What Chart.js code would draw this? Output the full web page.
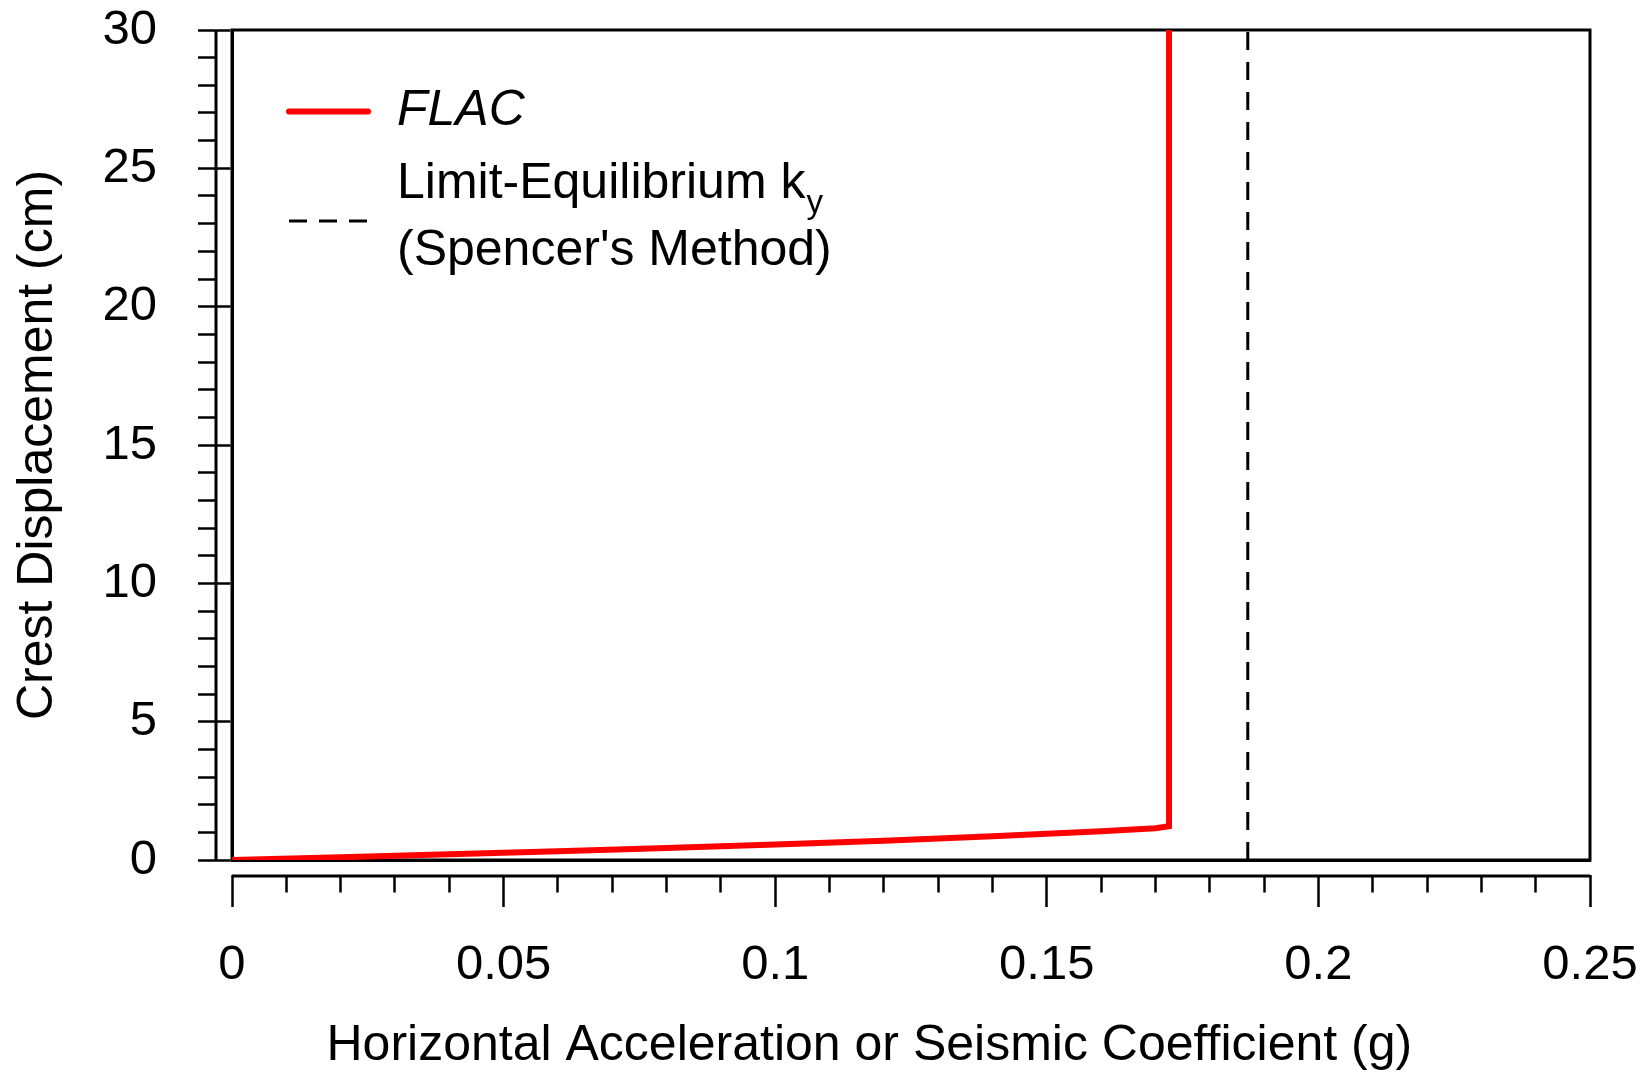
<!DOCTYPE html>
<html>
<head>
<meta charset="utf-8">
<script src="https://cdn.jsdelivr.net/npm/chart.js@4.4.1/dist/chart.umd.min.js"></script>
<style>
  html, body { margin: 0; padding: 0; background: #fff; }
  #wrap { width: 1650px; height: 1079px; }
</style>
</head>
<body>
<div id="wrap"><canvas id="chart" width="1650" height="1079"></canvas></div>
<script>
// FLAC crest displacement vs horizontal acceleration
const accel = [0, 0.02, 0.04, 0.06, 0.08, 0.10, 0.12, 0.14, 0.16, 0.17, 0.1725, 0.1725];
const crestDisp = [0, 0.10, 0.21, 0.32, 0.43, 0.56, 0.70, 0.86, 1.04, 1.15, 1.22, 30];

// limit-equilibrium yield coefficient (Spencer's method)
const kyAccel = [0.187, 0.187];
const kyDisp = [0, 30];

const xRange = [0, 0.25];
const yRange = [0, 30];
const xSteps = { minor: 0.01, major: 0.05 };
const ySteps = { minor: 1, major: 5 };

const xTitle = 'Horizontal Acceleration or Seismic Coefficient (g)      ';
const yTitle = 'Crest Displacement (cm)';

const FONT = "'Liberation Sans', Arial, sans-serif";
const AXIS_GAP = 16;   // offset between plot frame and the axis lines
const TICK_LEN = 47;

function isMajor(v, step) {
  return Math.abs(v / step - Math.round(v / step)) < 1e-6;
}

function fmt(v) {
  return String(+v.toFixed(2));
}

// tick marks start at the offset axis line, not at the frame
function tickDash(v, step) {
  var len = isMajor(v, step) ? 32.5 : 17.5;
  return [0, 13, len, 300];
}

const framePlugin = {
  id: 'frameAndOffsetAxes',
  beforeDatasetsDraw(chart) {
    const { ctx, chartArea: a } = chart;
    ctx.save();
    ctx.strokeStyle = '#000';
    ctx.lineWidth = 3;
    ctx.strokeRect(a.left, a.top, a.right - a.left, a.bottom - a.top);
    ctx.beginPath();
    ctx.moveTo(a.left, a.bottom + AXIS_GAP);
    ctx.lineTo(a.right, a.bottom + AXIS_GAP);
    ctx.moveTo(a.left - AXIS_GAP, a.top);
    ctx.lineTo(a.left - AXIS_GAP, a.bottom);
    ctx.stroke();
    ctx.restore();
  }
};

// legend drawn inside the plot, second entry has a subscript and two lines
const legendPlugin = {
  id: 'insideLegend',
  afterDatasetsDraw(chart) {
    const { ctx, chartArea: a } = chart;
    const sets = chart.data.datasets;
    const x0 = a.left + 57, x1 = a.left + 136, tx = a.left + 165;

    ctx.save();
    ctx.textBaseline = 'middle';
    ctx.textAlign = 'left';
    ctx.fillStyle = '#000';

    // FLAC
    var y = a.top + 81.5;
    ctx.strokeStyle = sets[0].borderColor;
    ctx.lineWidth = sets[0].borderWidth;
    ctx.lineCap = 'round';
    ctx.beginPath();
    ctx.moveTo(x0, y);
    ctx.lineTo(x1, y);
    ctx.stroke();
    ctx.font = 'italic 50px ' + FONT;
    ctx.fillText(sets[0].label, tx, y);

    // Limit-Equilibrium ky
    y = a.top + 191;
    ctx.strokeStyle = sets[1].borderColor;
    ctx.lineWidth = sets[1].borderWidth;
    ctx.lineCap = 'butt';
    ctx.setLineDash(sets[1].borderDash);
    ctx.beginPath();
    ctx.moveTo(x0, y);
    ctx.lineTo(x1 + 2, y);
    ctx.stroke();
    ctx.setLineDash([]);

    const lines = sets[1].label.split('|');
    ctx.font = '50px ' + FONT;
    const l1y = a.top + 154;
    ctx.fillText(lines[0], tx, l1y);
    const w = ctx.measureText(lines[0]).width;
    ctx.font = '33px ' + FONT;
    ctx.textBaseline = 'alphabetic';
    ctx.fillText(lines[1], tx + w + 1, l1y + 17 + 12);
    ctx.textBaseline = 'middle';
    ctx.font = '50px ' + FONT;
    ctx.fillText(lines[2], tx, a.top + 221.5);
    ctx.restore();
  }
};

const tickFont = { family: FONT, size: 49, lineHeight: 1.2 };
const titleFont = { family: FONT, size: 50, lineHeight: 1.2 };

new Chart(document.getElementById('chart'), {
  type: 'scatter',
  data: {
    datasets: [{
      label: 'FLAC',
      data: accel.map((x, i) => ({ x: x, y: crestDisp[i] })),
      showLine: true,
      borderColor: '#ff0000',
      borderWidth: 6,
      borderCapStyle: 'round',
      pointRadius: 0,
      tension: 0
    }, {
      label: "Limit-Equilibrium k|y|(Spencer's Method)",
      data: kyAccel.map((x, i) => ({ x: x, y: kyDisp[i] })),
      showLine: true,
      borderColor: '#000',
      borderWidth: 3,
      borderDash: [18, 12],
      pointRadius: 0
    }]
  },
  options: {
    responsive: false,
    animation: false,
    devicePixelRatio: 1,
    layout: { padding: { left: 0, right: 60, top: 30, bottom: 0 } },
    plugins: {
      legend: { display: false },
      tooltip: { enabled: false }
    },
    scales: {
      x: {
        type: 'linear',
        position: 'bottom',
        min: xRange[0],
        max: xRange[1],
        afterFit(scale) {
          // fixed axis band; label overhang is covered by the layout padding
          scale.height = 219;
          scale.paddingLeft = 0;
          scale.paddingRight = 0;
        },
        border: { display: true, color: '#000', width: 3 },
        grid: {
          drawOnChartArea: false,
          drawTicks: true,
          tickLength: TICK_LEN,
          tickWidth: 2.5,
          tickColor: '#000',
          tickBorderDash: (c) => tickDash(c.tick.value, xSteps.major)
        },
        ticks: {
          stepSize: xSteps.minor,
          autoSkip: false,
          maxRotation: 0,
          minRotation: 0,
          padding: 29,
          color: '#000',
          font: tickFont,
          callback: (v) => isMajor(v, xSteps.major) ? fmt(v) : ''
        },
        title: {
          display: true,
          text: xTitle,
          color: '#000',
          font: titleFont,
          padding: { top: 0, bottom: 3 }
        }
      },
      y: {
        type: 'linear',
        position: 'left',
        min: yRange[0],
        max: yRange[1],
        afterFit(scale) {
          scale.width = 232;
          scale.paddingTop = 0;
          scale.paddingBottom = 0;
        },
        border: { display: true, color: '#000', width: 3 },
        grid: {
          drawOnChartArea: false,
          drawTicks: true,
          tickLength: TICK_LEN,
          tickWidth: 2.5,
          tickColor: '#000',
          tickBorderDash: (c) => tickDash(c.tick.value, ySteps.major)
        },
        ticks: {
          stepSize: ySteps.minor,
          autoSkip: false,
          padding: 28,
          color: '#000',
          font: tickFont,
          callback: (v) => isMajor(v, ySteps.major) ? fmt(v) : ''
        },
        title: {
          display: true,
          text: yTitle,
          color: '#000',
          font: titleFont,
          padding: { top: 8, bottom: 0 }
        }
      }
    }
  },
  plugins: [framePlugin, legendPlugin]
});
</script>
</body>
</html>
